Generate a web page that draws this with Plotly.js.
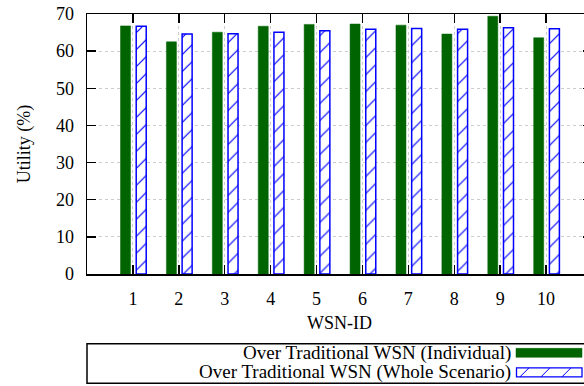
<!DOCTYPE html>
<html>
<head>
<meta charset="utf-8">
<script src="https://cdn.plot.ly/plotly-3.0.1.min.js"></script>
<style>
html,body{margin:0;padding:0;overflow:hidden;background:#fff;}
#chart{width:600px;height:386px;}
</style>
</head>
<body>
<div id="chart"></div>
<script>
// ---- data ----
const wsnIds = [1, 2, 3, 4, 5, 6, 7, 8, 9, 10];
const individual = [66.8, 62.5, 65.1, 66.7, 67.2, 67.3, 67.0, 64.6, 69.4, 63.6];
const wholeScenario = [66.7, 64.6, 64.7, 65.1, 65.5, 65.9, 66.1, 65.9, 66.3, 66.0];
const seriesNames = ["Over Traditional WSN (Individual)", "Over Traditional WSN (Whole Scenario)"];
const yTickVals = [0, 10, 20, 30, 40, 50, 60, 70];
const xTitle = "WSN-ID";
const yTitle = "Utility (%)";

// ---- geometry helpers (pixel -> paper) ----
const L = 87, R = 592, T = 14, B = 274.5;
const px = x => (x - L) / (R - L);
const py = y => (B - y) / (B - T);

const FONT = "Liberation Serif";
const green = "#006400";
const blue = "#0000ff";

const traces = [
  {
    type: "bar", x: wsnIds, y: individual, name: seriesNames[0],
    width: 0.218, offset: -0.27,
    marker: {color: green, line: {color: green, width: 0.5}},
    showlegend: false
  },
  {
    type: "bar", x: wsnIds, y: wholeScenario, name: seriesNames[1],
    width: 0.218, offset: 0.072,
    marker: {color: "#ffffff", line: {color: blue, width: 1.5},
             pattern: {shape: "/", fgcolor: blue, bgcolor: "#ffffff", size: 12, solidity: 0.1}},
    showlegend: false
  }
];

// custom key (symbols to the right of right-aligned text, as in the reference)
const rowY = [353.5, 373];
const shapes = [
  {type: "rect", xref: "paper", yref: "paper", x0: 0, x1: 1, y0: py(344.5), y1: py(384),
   line: {color: "#000", width: 1.5}, fillcolor: "rgba(0,0,0,0)"},
  {type: "rect", xref: "paper", yref: "paper", x0: px(516), x1: px(582), y0: py(rowY[0] - 4.5), y1: py(rowY[0] + 4.5),
   line: {color: green, width: 0.5}, fillcolor: green},
  {type: "rect", xref: "paper", yref: "paper", x0: px(516.5), x1: px(582), y0: py(rowY[1] - 4.5), y1: py(rowY[1] + 4.5),
   line: {color: blue, width: 1.3}, fillcolor: "#fff"}
];
[520, 541, 562].forEach(x0 => {
  shapes.push({type: "line", xref: "paper", yref: "paper",
    x0: px(x0), x1: px(x0 + 9), y0: py(rowY[1] + 4.5), y1: py(rowY[1] - 4.5),
    line: {color: blue, width: 1}});
});

const annotations = seriesNames.map((s, i) => ({
  text: s, xref: "paper", yref: "paper", x: px(513), y: py(rowY[i]),
  xanchor: "right", yanchor: "middle", showarrow: false,
  font: {family: FONT, size: 19, color: "#000"}
}));

const layout = {
  width: 600, height: 386,
  margin: {l: L, r: 600 - R, t: T, b: 386 - B},
  paper_bgcolor: "#fff", plot_bgcolor: "#fff",
  font: {family: FONT, size: 18, color: "#000"},
  showlegend: false,
  xaxis: {
    range: [0, 11], tickvals: wsnIds, ticktext: wsnIds.map(String),
    ticks: "inside", ticklen: 9, tickwidth: 1.5, tickcolor: "#000",
    showline: true, linecolor: "#000", linewidth: 1.5, mirror: "allticks",
    showgrid: true, gridcolor: "#cccccc", griddash: "dot", gridwidth: 1,
    zeroline: false, ticklabelstandoff: 8,
    tickfont: {family: FONT, size: 18},
    title: {text: xTitle, font: {family: FONT, size: 18}, standoff: 8}
  },
  yaxis: {
    range: [0, 70], tickvals: yTickVals,
    ticks: "inside", ticklen: 9, tickwidth: 1.5, tickcolor: "#000",
    showline: true, linecolor: "#000", linewidth: 1.5, mirror: "allticks",
    showgrid: true, gridcolor: "#cccccc", griddash: "dot", gridwidth: 1,
    zeroline: false, ticklabelstandoff: 8,
    tickfont: {family: FONT, size: 18},
    title: {text: yTitle, font: {family: FONT, size: 18}, standoff: 20}
  },
  shapes: shapes,
  annotations: annotations
};

Plotly.newPlot("chart", traces, layout, {displayModeBar: false, staticPlot: true});
</script>
</body>
</html>
